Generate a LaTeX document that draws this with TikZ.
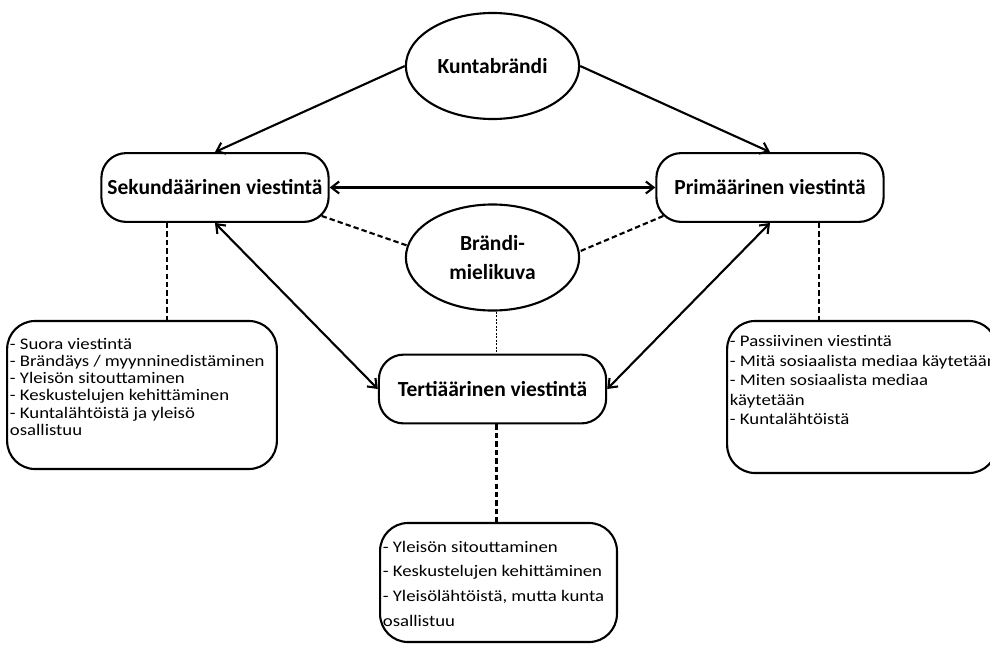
\documentclass[tikz,border=0pt]{standalone}
\usepackage{fontspec}
\setmainfont{Carlito}
\newfontfamily\boxfont{Carlito}[FakeStretch=1.16]
\usetikzlibrary{positioning, shapes.geometric, arrows.meta, calc}

\begin{document}
\begin{tikzpicture}[x=0.025cm, y=-0.025cm, line width=1.5pt,
    >={Straight Barb[length=5.5pt,width=8.5pt]},
    brandoval/.style={draw, ellipse, minimum width=4.33cm, minimum height=2.65cm, align=center,
        font=\fontsize{15.3}{20}\selectfont\bfseries},
    channel/.style={draw, rectangle, rounded corners=0.62cm, minimum width=5.68cm, minimum height=1.72cm,
        font=\fontsize{15.3}{17}\selectfont\bfseries},
    infobox/.style={draw, rectangle, rounded corners=0.7cm, inner xsep=2pt, inner ysep=0pt},
    link/.style={line width=1.5pt, dash pattern=on 3.8pt off 2.2pt},
    thinlink/.style={line width=0.7pt, dash pattern=on 1.5pt off 1pt}]
    \useasboundingbox (0,0) rectangle (990,644);

    % Brandi ja kanavat
    \node (brand) [brandoval] at (492.5,66) {Kuntabrändi};
    \node (sek) [channel] at (215,187.5) {Sekundäärinen viestintä};
    \node (prim) [channel] at (770,187.5) {Primäärinen viestintä};
    \node (image) [brandoval] at (492.5,257.5) {Brändi-\\mielikuva};
    \node (tert) [channel] at (492.5,389) {Tertiäärinen viestintä};

    % Tekstilaatikot
    \node (leftbox) [infobox] at (142,395)
    {\parbox[c][3.7cm][t]{6.6cm}{\boxfont\fontsize{11.5}{12.3}\selectfont\raggedright\vspace*{12pt}
    - Suora viestintä\\
    - Brändäys / myynninedistäminen\\
    - Yleisön sitouttaminen\\
    - Keskustelujen kehittäminen\\
    - Kuntalähtöistä ja yleisö\\
    osallistuu}};
    \node (rightbox) [infobox] at (862,397)
    {\parbox[c][3.8cm][t]{6.6cm}{\boxfont\fontsize{11.5}{13.9}\selectfont\raggedright\vspace*{10.3pt}
    - Passiivinen viestintä\\
    \mbox{- Mitä sosiaalista mediaa käytetään}\\
    - Miten sosiaalista mediaa\\
    käytetään\\
    - Kuntalähtöistä}};
    \node (bottombox) [infobox] at (498.5,582.5)
    {\parbox[c][2.975cm][t]{5.78cm}{\boxfont\fontsize{11.5}{17.6}\selectfont\raggedright\vspace*{12.8pt}
    - Yleisön sitouttaminen\\
    - Keskustelujen kehittäminen\\
    - Yleisölähtöistä, mutta kunta\\
    osallistuu}};

    % Nuolet
    \draw[->] (brand.west) -- (sek.north);
    \draw[->] (brand.east) -- (prim.north);
    \draw[<->] (sek) -- (prim);
    \draw[<->] (sek.south) -- (tert.west);
    \draw[<->] (prim.south) -- (tert.east);

    % Katkoviivat
    \draw[link] ($(sek.south east)+(-8,-7)$) -- (image.172);
    \draw[link] ($(prim.south west)+(8,-7)$) -- (image.4);
    \draw[thinlink] ([xshift=0.1cm]image.south) -- ([xshift=0.1cm]image.south |- tert.north);
    \draw[link] ([xshift=-1.2cm]sek.south) -- ([xshift=-1.2cm]sek.south |- leftbox.north);
    \draw[link] ([xshift=1.225cm]prim.south) -- ([xshift=1.225cm]prim.south |- rightbox.north);
    \draw[link] ([xshift=0.1cm]tert.south) -- ([xshift=0.1cm]tert.south |- bottombox.north);
\end{tikzpicture}
\end{document}
